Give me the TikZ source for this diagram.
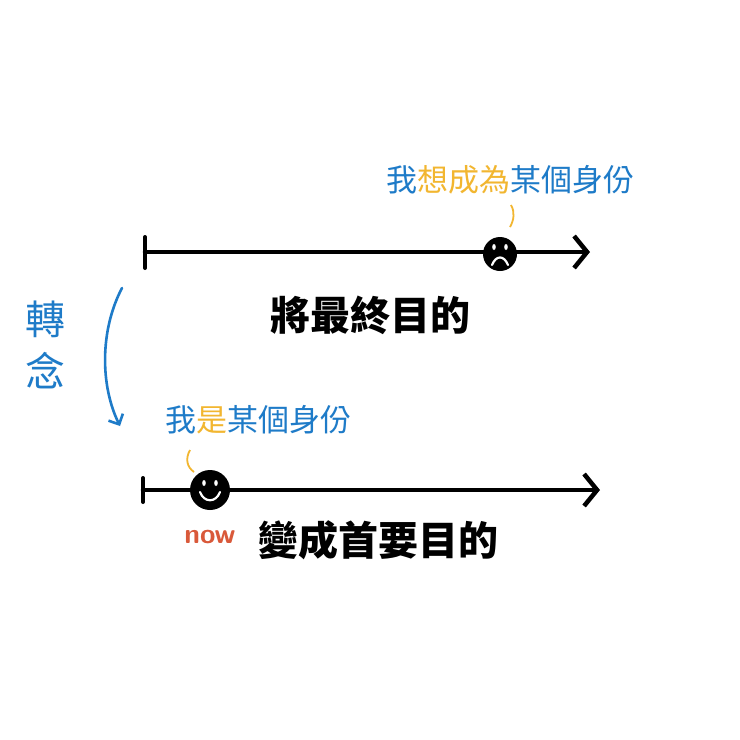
\documentclass[tikz,border=0pt]{standalone}
\usepackage{fontspec}
\newfontfamily\cjk{Noto Sans CJK TC}
\usetikzlibrary{arrows.meta}
\definecolor{bl}{HTML}{1E7BC8}
\definecolor{yl}{HTML}{F2B630}
\definecolor{rd}{HTML}{D9593A}
\begin{document}
\begin{tikzpicture}[x=1pt,y=-1pt,
  line/.style={line width=4.5pt,line cap=round,-{Straight Barb[length=13pt,width=32pt,line width=4.5pt]}},
  tickln/.style={line width=4pt,line cap=round},
  big/.style={font=\cjk\bfseries\fontsize{40}{40}\selectfont},
  small/.style={font=\cjk\fontsize{31}{31}\selectfont}]
\useasboundingbox[fill=white] (0,0) rectangle (740,740);
% top line
\coordinate (t0) at (145,252); \coordinate (t1) at (590,252);
\draw[line] (t0) -- (t1);
\draw[tickln] (145,237) -- (145,268);
\node[circle,fill=black,minimum size=34pt,inner sep=0] (sad) at (500,254) {};
\fill[white] (494,247) ellipse (1.8 and 3) (506,247) ellipse (1.8 and 3);
\draw[white,line width=2.2pt,line cap=round] (492,265) .. controls (496,255) and (504,255) .. (508,265);
\draw[yl,line width=1.8pt] (511,205) .. controls (515,212) and (514,220) .. (510,227);
\node[small,inner sep=0] (q1) at (510,180) {\textcolor{bl}{我}\textcolor{yl}{想成為}\textcolor{bl}{某個身份}};
\node[big] (g1) at (370,315) {將最終目的};
% curved arrow
\coordinate (c0) at (122,288); \coordinate (c1) at (120,426);
\draw[bl,line width=2.6pt,line cap=round,-{Straight Barb[length=8pt,width=16pt,line width=2.6pt]}] (c0) .. controls (100,330) and (100,385) .. (c1);
\node[text=bl,align=center,font=\cjk\fontsize{40}{52}\selectfont] (zn) at (45,345) {轉\\念};
% bottom line
\coordinate (b0) at (143,490); \coordinate (b1) at (600,490);
\draw[line] (b0) -- (b1);
\draw[tickln] (143,478) -- (143,502);
\node[circle,fill=black,minimum size=40pt,inner sep=0] (happy) at (210,490) {};
\fill[white] (204,483) ellipse (1.8 and 3) (216,483) ellipse (1.8 and 3);
\draw[white,line width=2.2pt,line cap=round] (200,492) .. controls (204,503) and (216,503) .. (220,492);
\draw[yl,line width=1.8pt] (190,450) .. controls (185,459) and (187,467) .. (194,472);
\node[small,inner sep=0] (q2) at (258,420) {\textcolor{bl}{我}\textcolor{yl}{是}\textcolor{bl}{某個身份}};
\node[text=rd,font=\sffamily\bfseries\fontsize{28}{28}\selectfont] (now) at (210,537) {now};
\node[big] (g2) at (378,540) {變成首要目的};
\end{tikzpicture}
\end{document}
